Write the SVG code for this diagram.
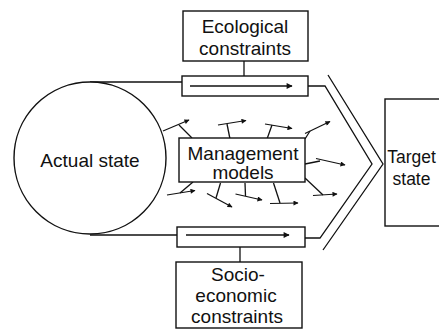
<svg xmlns="http://www.w3.org/2000/svg" width="439" height="329" viewBox="0 0 439 329">
<style>
.box{fill:#fff;stroke:#111;stroke-width:1.4}
.ln{fill:none;stroke:#111;stroke-width:1.3}
.ar{fill:none;stroke:#111;stroke-width:1.2;marker-end:url(#ah)}
.big{fill:none;stroke:#111;stroke-width:1.6;marker-end:url(#ahb)}
text{font-family:"Liberation Sans",Arial,sans-serif;font-size:19px;fill:#111;text-anchor:middle}
.tg{font-size:17.5px}
</style>
<defs>
<marker id="ah" viewBox="0 0 10 10" refX="9" refY="5" markerUnits="userSpaceOnUse" markerWidth="8" markerHeight="5" orient="auto">
<path d="M0,0 L10,5 L0,10 z" fill="#111"/>
</marker>
<marker id="ahb" viewBox="0 0 10 10" refX="9" refY="5" markerUnits="userSpaceOnUse" markerWidth="10" markerHeight="6" orient="auto">
<path d="M0,0 L10,5 L0,10 z" fill="#111"/>
</marker>
</defs>
<rect width="439" height="329" fill="#fff"/>

<g id="connectors">
<line class="ln" x1="90" y1="82" x2="182" y2="82"/>
<line class="ln" x1="90" y1="235" x2="177" y2="235"/>
<line class="ln" x1="244" y1="61" x2="244" y2="76"/>
<line class="ln" x1="240" y1="247" x2="240" y2="262"/>
<polyline class="ln" points="308,86 325,86 372,164 320,238 305,238"/>
<polyline class="ln" points="328,75 383,164 323,250"/>
<line class="ln" x1="192" y1="138" x2="179" y2="125"/>
<line class="ar" x1="163" y1="131" x2="189" y2="120"/>
<line class="ln" x1="230" y1="139" x2="227" y2="124"/>
<line class="ar" x1="218" y1="125" x2="246" y2="120.5"/>
<line class="ln" x1="267" y1="139" x2="272" y2="125"/>
<line class="ar" x1="265" y1="124" x2="292" y2="128.5"/>
<line class="ln" x1="305" y1="139" x2="310" y2="131"/>
<line class="ar" x1="305" y1="133.5" x2="330" y2="121.5"/>
<line class="ln" x1="305" y1="164" x2="320" y2="161"/>
<line class="ar" x1="316" y1="158.5" x2="345" y2="165"/>
<line class="ln" x1="305" y1="178" x2="323" y2="195"/>
<line class="ar" x1="313" y1="195.5" x2="337" y2="194"/>
<line class="ln" x1="273.5" y1="183" x2="280" y2="203"/>
<line class="ar" x1="270" y1="203.5" x2="298" y2="203"/>
<line class="ln" x1="245" y1="183" x2="245.5" y2="196"/>
<line class="ar" x1="235.5" y1="194" x2="262" y2="200"/>
<line class="ln" x1="220.5" y1="183" x2="216" y2="198"/>
<line class="ar" x1="207" y1="193.5" x2="232" y2="207"/>
<line class="ln" x1="193" y1="182" x2="180" y2="193"/>
<line class="ar" x1="167" y1="195" x2="195" y2="190.5"/>
</g>

<g id="actual-state">
<circle class="box" cx="90" cy="158" r="76"/>
<text x="90" y="167">Actual state</text>
</g>

<g id="ecological-constraints">
<rect class="box" x="183" y="11" width="125" height="50"/>
<text x="245" y="33">Ecological</text>
<text x="245" y="55">constraints</text>
</g>

<g id="top-channel">
<rect class="box" x="182" y="76" width="126" height="20"/>
<line class="big" x1="190" y1="86" x2="292" y2="86"/>
</g>

<g id="management-models">
<rect class="box" x="179" y="138" width="126" height="44"/>
<text x="243" y="160">Management</text>
<text x="243" y="179">models</text>
</g>

<g id="bottom-channel">
<rect class="box" x="177" y="227" width="128" height="20"/>
<line class="big" x1="186" y1="235" x2="289" y2="235"/>
</g>

<g id="socio-economic-constraints">
<rect class="box" x="176" y="262" width="126" height="66"/>
<text x="238" y="281">Socio-</text>
<text x="236" y="302">economic</text>
<text x="237" y="323">constraints</text>
</g>

<g id="target-state">
<rect class="box" x="385" y="99" width="70" height="127"/>
<text class="tg" x="411.5" y="163">Target</text>
<text class="tg" x="411.5" y="185">state</text>
</g>
</svg>
